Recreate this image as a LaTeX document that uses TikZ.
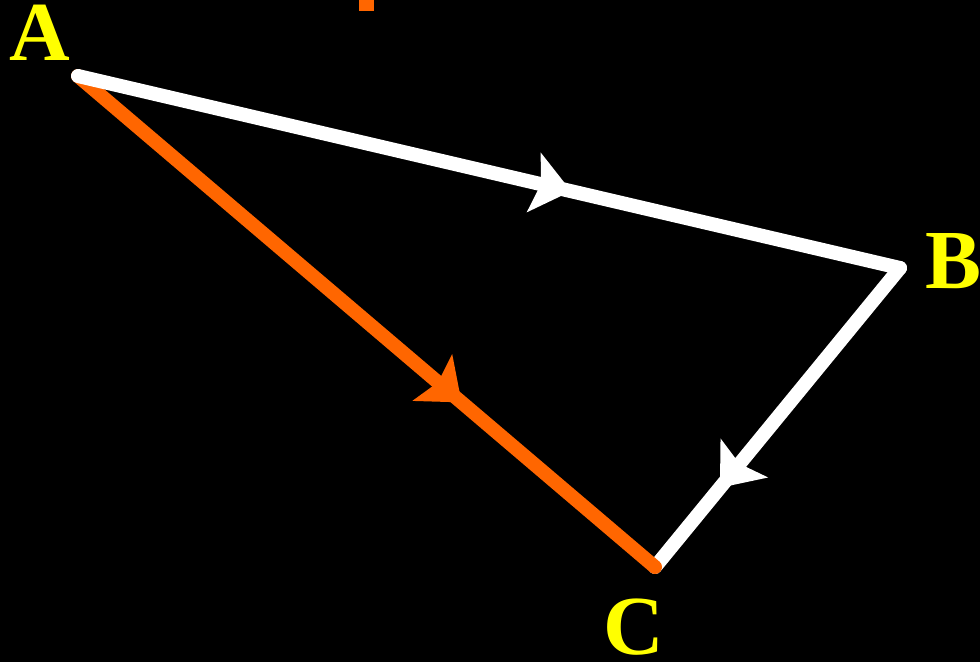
\documentclass[tikz,border=0pt]{standalone}
\usepackage{fontspec}
\setmainfont{Liberation Serif}
\usetikzlibrary{arrows.meta,decorations.markings}
\definecolor{vorange}{RGB}{255,102,0}
\definecolor{vyellow}{RGB}{255,255,0}
\tikzset{
  vec/.style={line width=14pt,line cap=round,line join=round},
  lbl/.style={text=vyellow,inner sep=0pt,font=\fontsize{84}{84}\selectfont\bfseries},
  arr/.style={postaction={decorate},decoration={markings,mark=at position #1 with {\arrow{Stealth[length=38pt,width=60pt,inset=7pt]}}}}
}
\begin{document}
\begin{tikzpicture}[x=1pt,y=-1pt]
\fill[black] (0,0) rectangle (980,662);
\useasboundingbox (0,0) rectangle (980,662);
\coordinate (A) at (78,76);
\coordinate (B) at (900,268);
\coordinate (C) at (655,567);
\fill[vorange] (359,0) rectangle (374,11);
\draw[vec,white,arr=0.735] (B) -- (C);
\draw[vec,vorange,arr=0.665] (A) -- (C);
\draw[vec,white,arr=0.60] (A) -- (B);
\node[lbl] (la) at (40,33) {A};
\node[lbl] (lb) at (954,261) {B};
\node[lbl] (lc) at (634,627) {C};
\end{tikzpicture}
\end{document}
